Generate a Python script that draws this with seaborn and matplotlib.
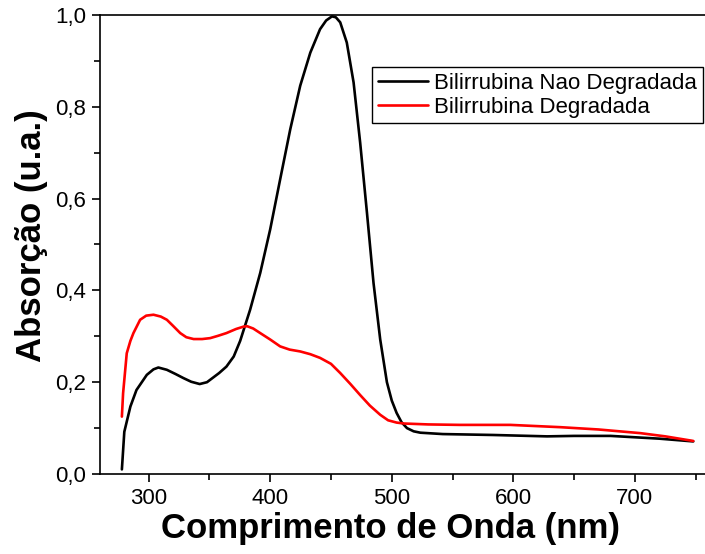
import numpy as np
import pandas as pd
import matplotlib
matplotlib.use("Agg")
import matplotlib.pyplot as plt
from matplotlib.ticker import MultipleLocator, FuncFormatter
import seaborn as sns

# Bilirrubina Nao Degradada (black)
wl_nao = [278, 280, 285, 290, 298.5, 304, 308, 315, 322, 328.6, 335, 342, 348, 353, 358,
          364, 370, 375.3, 383.5, 391.8, 400, 408.2, 416.5, 424.7, 433, 441, 446, 450.8,
          454, 457.6, 463, 468.6, 474, 479.6, 485, 490.5, 496, 500, 504, 508, 512.5, 518,
          523.5, 542, 583.5, 627.7, 650, 680, 700, 720, 748]
abs_nao = [0.01, 0.092, 0.147, 0.183, 0.216, 0.228, 0.232, 0.227, 0.218, 0.209, 0.201,
           0.196, 0.2, 0.21, 0.22, 0.234, 0.256, 0.29, 0.358, 0.438, 0.533, 0.642, 0.751,
           0.846, 0.918, 0.969, 0.988, 0.997, 0.995, 0.984, 0.94, 0.853, 0.722, 0.569,
           0.416, 0.293, 0.2, 0.16, 0.133, 0.113, 0.1, 0.093, 0.09, 0.087, 0.085, 0.082,
           0.083, 0.083, 0.080, 0.077, 0.071]

# Bilirrubina Degradada (red)
wl_deg = [278, 279, 282, 285, 287.5, 293, 298, 304, 310, 315, 320, 326, 331, 337, 344,
          350.6, 357, 364, 372, 378, 381, 386, 391.8, 400, 408.2, 416, 424.7, 433, 441,
          450, 457.6, 466, 474, 482, 490.5, 497, 504, 510, 530, 556, 597.5, 638.7, 670,
          704.5, 725, 748]
abs_deg = [0.125, 0.176, 0.263, 0.29, 0.307, 0.336, 0.345, 0.347, 0.343, 0.336, 0.323,
           0.307, 0.298, 0.294, 0.294, 0.296, 0.301, 0.307, 0.316, 0.321, 0.322, 0.317,
           0.307, 0.293, 0.278, 0.271, 0.267, 0.261, 0.253, 0.24, 0.22, 0.196, 0.172,
           0.149, 0.129, 0.117, 0.112, 0.11, 0.108, 0.107, 0.107, 0.102, 0.097, 0.089,
           0.082, 0.072]

labels = ["Bilirrubina Nao Degradada", "Bilirrubina Degradada"]

df = pd.concat([
    pd.DataFrame({"wl": wl_nao, "abs": abs_nao, "serie": labels[0]}),
    pd.DataFrame({"wl": wl_deg, "abs": abs_deg, "serie": labels[1]}),
], ignore_index=True)

sns.set_style("ticks")
plt.rcParams["font.family"] = ["Liberation Sans", "DejaVu Sans"]
plt.rcParams["text.color"] = "black"
plt.rcParams["axes.labelcolor"] = "black"
plt.rcParams["xtick.color"] = "black"
plt.rcParams["ytick.color"] = "black"

fig = plt.figure(figsize=(7.05, 5.54), dpi=100)
ax = fig.add_axes([100/705, 80/554, 620/705, 459/554])

sns.lineplot(data=df, x="wl", y="abs", hue="serie", hue_order=labels,
             palette={labels[0]: "black", labels[1]: "red"},
             linewidth=1.9, ax=ax, sort=False, estimator=None)

ax.set_xlim(260, 770)
ax.set_ylim(0, 1.0)
ax.xaxis.set_major_locator(MultipleLocator(100))
ax.xaxis.set_minor_locator(MultipleLocator(50))
ax.yaxis.set_major_locator(MultipleLocator(0.2))
ax.yaxis.set_minor_locator(MultipleLocator(0.1))
ax.yaxis.set_major_formatter(FuncFormatter(lambda v, p: f"{v:.1f}".replace(".", ",")))
ax.tick_params(axis="both", which="major", direction="out", length=6, width=1.2,
               labelsize=16, colors="black", top=False, right=False, pad=4)
ax.tick_params(axis="both", which="minor", direction="out", length=4, width=1.2,
               colors="black", top=False, right=False)
for s in ax.spines.values():
    s.set_color("black")
    s.set_linewidth(1.2)

ax.set_xlabel("Comprimento de Onda (nm)", fontsize=25, fontweight="bold", color="black")
ax.set_ylabel("Absorção (u.a.)", fontsize=25, fontweight="bold", color="black")
ax.xaxis.set_label_coords(0.468, -0.082)
ax.yaxis.set_label_coords(-0.084, 0.52)

leg = ax.legend(loc="upper left", bbox_to_anchor=(0.439, 0.886), borderaxespad=0,
                fontsize=16, frameon=True, fancybox=False, framealpha=1,
                edgecolor="black", handlelength=2.25, handletextpad=0.3,
                borderpad=0.25, labelspacing=0.12, title=None)
leg.get_frame().set_linewidth(1.0)
for t in leg.get_texts():
    t.set_color("black")

fig.savefig("out.png", dpi=100)
